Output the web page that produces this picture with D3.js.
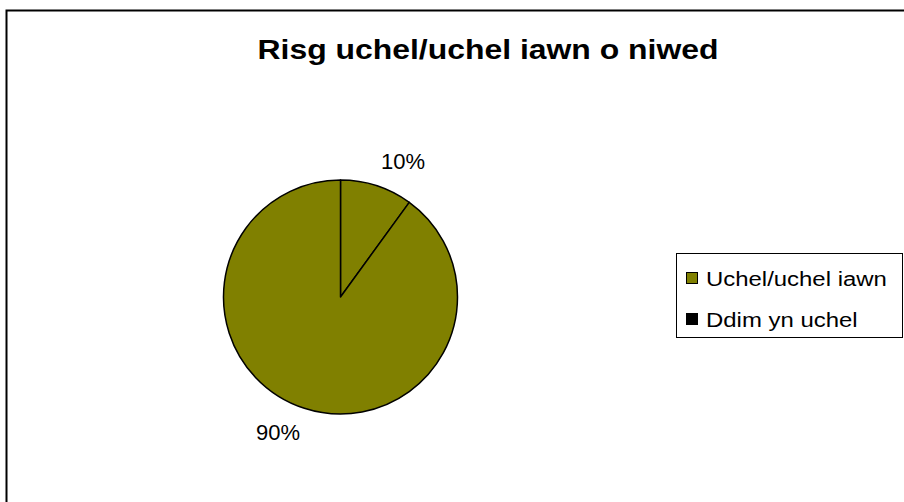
<!DOCTYPE html>
<html>
<head>
<meta charset="utf-8">
<script src="https://cdn.jsdelivr.net/npm/d3@7"></script>
<style>
  body { margin: 0; background: #fff; }
  svg { display: block; font-family: Arial, "Liberation Sans", sans-serif; }
</style>
</head>
<body>
<script>
//chart data
var categories = ["Uchel/uchel iawn", "Ddim yn uchel"];
var values = [90, 10];
var sliceColors = ["#808000", "#808000"]; //both slices drawn olive in the original
var legendColors = ["#808000", "#000000"];
var titleText = "Risg uchel/uchel iawn o niwed";

(function(){
    var width = 904, height = 502;
    var stretch = 1.14; //original text is rendered a bit wider than Arial

    var svg = d3.select("body").append("svg")
        .attr("width", width)
        .attr("height", height);

    //chart frame (runs off the right and bottom edges)
    svg.append("rect")
        .attr("x", 6.5).attr("y", 10.5)
        .attr("width", 1000).attr("height", 600)
        .attr("fill", "#fff")
        .attr("stroke", "#000")
        .attr("stroke-width", 2);

    //title
    svg.append("g")
        .attr("transform", "translate(488,59) scale(" + stretch + ",1)")
        .append("text")
        .attr("text-anchor", "middle")
        .attr("font-size", 28)
        .attr("font-weight", "bold")
        .text(titleText);

    //pie, starts at 12 o'clock going clockwise, smaller slice first
    var cx = 340.5, cy = 297, r = 117;
    var data = categories.map(function(c, i){ return {cat: c, val: values[i], color: sliceColors[i]}; });

    var pie = d3.pie()
        .sort(null)
        .value(function(d){ return d.val; });
    var arcs = pie(data.slice().reverse());

    var arc = d3.arc().innerRadius(0).outerRadius(r);
    var labelArc = d3.arc().innerRadius(131).outerRadius(131);
    var labelSize = 22;

    var g = svg.append("g").attr("transform", "translate(" + cx + "," + cy + ")");

    g.selectAll(".slice")
        .data(arcs)
        .enter()
        .append("path")
        .attr("class", "slice")
        .attr("d", arc)
        .attr("fill", function(d){ return d.data.color; })
        .attr("stroke", "#000")
        .attr("stroke-width", 1.5)
        .attr("stroke-linejoin", "round");

    //labels sit outside the pie, box corner touching the label radius
    g.selectAll(".lbl")
        .data(arcs)
        .enter()
        .append("text")
        .attr("class", "lbl")
        .attr("x", function(d){ return labelArc.centroid(d)[0]; })
        .attr("y", function(d){
            var c = labelArc.centroid(d);
            return c[1] + (c[1] < 0 ? -labelSize / 2 : labelSize / 2);
        })
        .attr("dy", "0.35em")
        .attr("text-anchor", function(d){
            var mid = (d.startAngle + d.endAngle) / 2;
            return mid < Math.PI ? "start" : "end";
        })
        .attr("font-size", labelSize)
        .text(function(d){ return d.data.val + "%"; });

    //legend
    var legend = svg.append("g").attr("transform", "translate(676,253)");
    legend.append("rect")
        .attr("x", 0.5).attr("y", 0.5)
        .attr("width", 226).attr("height", 84)
        .attr("fill", "#fff")
        .attr("stroke", "#000")
        .attr("stroke-width", 1);

    var rowScale = d3.scalePoint()
        .domain(categories)
        .range([25, 66]);

    var rows = legend.selectAll(".leg")
        .data(categories)
        .enter()
        .append("g")
        .attr("class", "leg")
        .attr("transform", function(d){ return "translate(0," + rowScale(d) + ")"; });

    rows.append("rect")
        .attr("x", 10.5).attr("y", -5.5)
        .attr("width", 11).attr("height", 11)
        .attr("fill", function(d, i){ return legendColors[i]; })
        .attr("stroke", "#000")
        .attr("stroke-width", 1);

    rows.append("g")
        .attr("transform", "translate(30,0) scale(" + stretch + ",1)")
        .append("text")
        .attr("dy", "0.36em")
        .attr("font-size", 21)
        .text(function(d){ return d; });
})();
</script>
</body>
</html>
